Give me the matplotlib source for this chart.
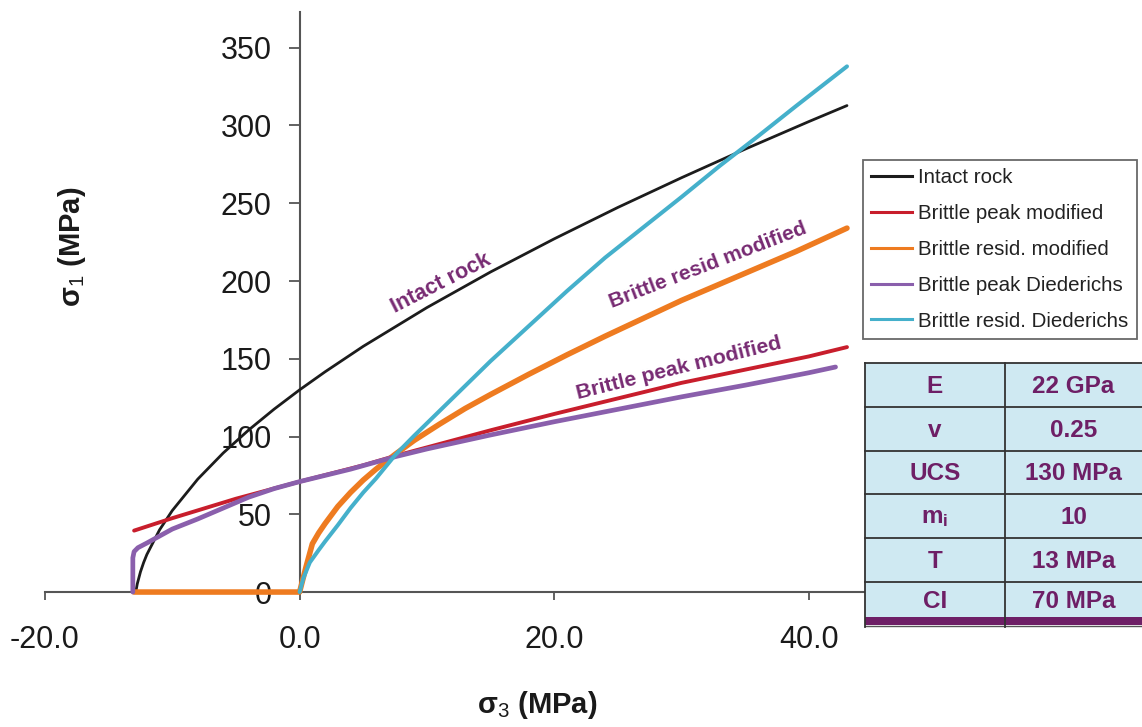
import matplotlib
matplotlib.use("Agg")
import matplotlib.pyplot as plt
from matplotlib.lines import Line2D
from matplotlib.patches import Rectangle

plt.rcParams["font.family"] = ["Liberation Sans", "DejaVu Sans"]
plt.rcParams["mathtext.fontset"] = "custom"
plt.rcParams["mathtext.rm"] = "Liberation Sans"
plt.rcParams["mathtext.it"] = "Liberation Sans:bold"
plt.rcParams["mathtext.bf"] = "Liberation Sans:bold"

# ---- failure envelopes: sigma_3 (MPa) vs sigma_1 (MPa) ----
intact_s3 = [-12.87, -12.75, -12.5, -12.25, -12.0, -11.0, -10.0, -8.0, -6.0, -4.0, -2.0,
             0.0, 2.0, 5.0, 10.0, 15.0, 20.0, 25.0, 30.0, 35.0, 40.0, 43.0]
intact_s1 = [0.0, 5.3, 13.0, 19.0, 24.1, 40.0, 52.4, 72.6, 89.4, 104.2, 117.6,
             130.0, 141.6, 158.0, 182.9, 205.8, 227.1, 247.3, 266.4, 284.8, 302.5, 312.8]

peak_mod_s3 = [-13.0, -10.0, -5.0, 0.0, 5.0, 7.5, 10.0, 15.0, 20.0, 25.0, 30.0, 35.0, 40.0, 43.0]
peak_mod_s1 = [39.5, 47.5, 60.0, 71.0, 81.5, 87.5, 93.0, 104.0, 114.5, 124.5, 134.5, 143.0, 151.5, 157.5]

resid_mod_s3 = [-13.0, 0.0, 0.5, 1.0, 1.5, 2.0, 3.0, 4.0, 5.0, 6.0, 7.5, 9.0, 11.0, 13.0,
                15.0, 18.0, 21.0, 24.0, 27.0, 30.0, 33.0, 36.0, 39.0, 43.0]
resid_mod_s1 = [0.0, 0.0, 16.0, 31.0, 38.0, 44.0, 55.0, 64.0, 72.0, 79.0, 88.5, 97.5, 108.0, 118.0,
                127.0, 140.0, 152.5, 164.5, 176.0, 187.5, 198.0, 208.5, 219.0, 234.0]

peak_die_s3 = [-13.1, -13.1, -13.0, -12.7, -12.0, -11.0, -10.0, -8.0, -6.0, -4.0, -2.0, 0.0,
               4.0, 7.5, 10.0, 15.0, 20.0, 25.0, 30.0, 35.0, 40.0, 42.1]
peak_die_s1 = [0.0, 22.0, 26.0, 28.5, 31.5, 36.0, 40.5, 47.0, 54.0, 61.0, 66.5, 71.0,
               79.0, 87.0, 92.0, 101.0, 109.5, 117.5, 125.5, 133.0, 141.0, 144.7]

resid_die_s3 = [0.0, 0.3, 0.8, 1.5, 2.0, 3.0, 4.0, 5.0, 6.0, 7.5, 9.0, 11.0, 13.0, 15.0,
                18.0, 21.0, 24.0, 27.0, 30.0, 33.0, 36.0, 39.0, 43.0]
resid_die_s1 = [0.0, 9.0, 19.0, 27.0, 32.5, 43.0, 54.0, 64.0, 73.0, 88.0, 100.5, 116.5, 132.5, 148.5,
                171.0, 193.5, 215.0, 234.5, 254.0, 274.0, 293.0, 312.5, 338.0]

series_names = ["Intact rock", "Brittle peak modified", "Brittle resid. modified",
                "Brittle peak Diederichs", "Brittle resid. Diederichs"]
series_colors = ["#1c1c1c", "#c81e2c", "#ee7b20", "#8a5fac", "#45b0cb"]
series_widths = [2.0, 2.8, 4.0, 3.4, 2.9]

x_ticks = [-20.0, 0.0, 20.0, 40.0]
y_ticks = [0, 50, 100, 150, 200, 250, 300, 350]

param_names = ["E", "v", "UCS", "m$_i$", "T", "CI"]
param_values = ["22 GPa", "0.25", "130 MPa", "10", "13 MPa", "70 MPa"]

# ---- figure ----
W, H = 1142, 727
fig = plt.figure(figsize=(W / 100, H / 100), dpi=100)
fig.patch.set_facecolor("white")

ax = fig.add_axes([45 / W, 1 - 610.7 / H, (864.8 - 45) / W, (610.7 - 10.4) / H])
ax.set_xlim(-20, 44.4)
ax.set_ylim(-12, 374)
ax.patch.set_alpha(0)

for side in ("top", "right"):
    ax.spines[side].set_visible(False)
ax.spines["left"].set_position(("data", 0))
ax.spines["bottom"].set_position(("data", 0))
ax.spines["left"].set_bounds(0, 373)
ax.spines["bottom"].set_bounds(-20, 44.4)
for side in ("left", "bottom"):
    ax.spines[side].set_color("#555555")
    ax.spines[side].set_linewidth(1.5)

ax.set_xticks(x_ticks)
ax.set_xticklabels([f"{v:.1f}" for v in x_ticks])
ax.set_yticks(y_ticks)
ax.set_yticklabels([str(v) for v in y_ticks])
ax.tick_params(axis="x", direction="out", length=6, width=1.3, pad=18,
               labelsize=22, colors="#555555", labelcolor="#1a1a1a")
ax.tick_params(axis="y", direction="out", length=8, width=1.3, pad=12,
               labelsize=22, colors="#555555", labelcolor="#1a1a1a")

data = [(intact_s3, intact_s1), (peak_mod_s3, peak_mod_s1), (resid_mod_s3, resid_mod_s1),
        (peak_die_s3, peak_die_s1), (resid_die_s3, resid_die_s1)]
for (xs, ys), c, lw in zip(data, series_colors, series_widths):
    ax.plot(xs, ys, color=c, lw=lw, solid_capstyle="round", solid_joinstyle="round",
            clip_on=False, zorder=3)

label_color = "#772a72"
ax.text(11.1, 198.5, "Intact rock", rotation=27, rotation_mode="anchor",
        ha="center", va="center", fontsize=15.5, fontweight="bold", color=label_color)
ax.text(32.1, 210.3, "Brittle resid modified", rotation=21, rotation_mode="anchor",
        ha="center", va="center", fontsize=15, fontweight="bold", color=label_color)
ax.text(29.8, 144.0, "Brittle peak modified", rotation=14, rotation_mode="anchor",
        ha="center", va="center", fontsize=15.3, fontweight="bold", color=label_color)

fig.text(72 / W, 1 - 247 / H, "σ$_1$ (MPa)", rotation=90, ha="center", va="center",
         fontsize=21, fontweight="bold", color="#1a1a1a")
fig.text(537 / W, 1 - 705 / H, "σ$_3$ (MPa)", ha="center", va="center",
         fontsize=21, fontweight="bold", color="#1a1a1a")

# ---- legend ----
handles = [Line2D([], [], color=c, lw=2.2) for c in series_colors]
leg = fig.legend(handles, series_names, loc="upper left",
                 bbox_to_anchor=(863 / W, 1 - 160 / H), bbox_transform=fig.transFigure,
                 frameon=True, fancybox=False, shadow=False, fontsize=14.8,
                 handlelength=2.0, handletextpad=0.3, labelspacing=0.82,
                 borderpad=0.4, borderaxespad=0)
leg.get_frame().set_edgecolor("#444444")
leg.get_frame().set_linewidth(1.3)
for t in leg.get_texts():
    t.set_color("#222222")

# ---- parameter table ----
tax = fig.add_axes([0, 0, 1, 1])
tax.set_xlim(0, W)
tax.set_ylim(H, 0)
tax.axis("off")
tax.patch.set_alpha(0)

left, mid, right = 865, 1005, 1142
row_edges = [363, 407, 451, 494, 538, 582, 617]
tax.add_patch(Rectangle((left, row_edges[0]), right - left, row_edges[-1] - row_edges[0],
                        facecolor="#cfe9f2", edgecolor="none"))
for yy in row_edges[:-1]:
    tax.plot([left, right], [yy, yy], color="#333333", lw=1.3)
tax.add_patch(Rectangle((left, 617), right - left, 8, facecolor="#6e1f66", edgecolor="none"))
tax.plot([left, right], [626, 626], color="#555555", lw=1.0)
for xx in (left, mid):
    tax.plot([xx, xx], [row_edges[0], 627], color="#333333", lw=1.3)

table_color = "#6e1f66"
for i, (name, val) in enumerate(zip(param_names, param_values)):
    yc = (row_edges[i] + row_edges[i + 1]) / 2 + 1.5
    tax.text((left + mid) / 2, yc, name, ha="center", va="center",
             fontsize=17.5, fontweight="bold", color=table_color)
    tax.text((mid + right) / 2, yc, val, ha="center", va="center",
             fontsize=17.5, fontweight="bold", color=table_color)

fig.savefig("out.png", dpi=100, facecolor="white")
